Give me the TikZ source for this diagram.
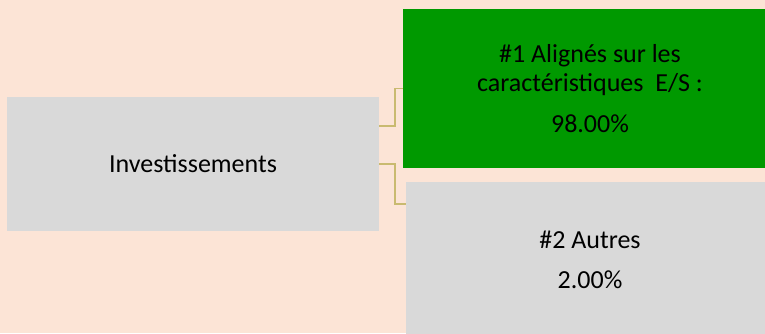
\documentclass[tikz,border=0pt]{standalone}
\usepackage{fontspec}
\setmainfont{Carlito}
\definecolor{peach}{RGB}{252,228,214}
\definecolor{boxgrey}{RGB}{217,217,217}
\definecolor{boxgreen}{RGB}{0,153,0}
\definecolor{linktan}{RGB}{201,186,112}
\begin{document}
\begin{tikzpicture}[x=1pt,y=-1pt,
  blockbox/.style={rectangle,inner sep=0pt,outer sep=0pt,align=center,
    font=\fontsize{26}{29}\selectfont,text=black},
  link/.style={draw=linktan,line width=1.6pt}]
  \useasboundingbox (0,0) rectangle (765,333);
  \fill[peach] (0,0) rectangle (765,333);
  \begin{scope}
    \clip (0,0) rectangle (765,333);
    \node[blockbox,fill=boxgrey,minimum width=372pt,minimum height=134pt] (inv) at (193,164) {Investissements};
    \node[blockbox,fill=boxgreen,minimum width=374pt,minimum height=159pt] (al) at (590,88.5)
      {\#1 Alignés sur les\\caractéristiques~~E/S :\\[12pt]98.00\%};
    \node[blockbox,fill=boxgrey,minimum width=368pt,minimum height=155pt] (oth) at (590,259.5)
      {\#2 Autres\\[11pt]2.00\%};
    \coordinate (bend) at (395,0);
    \coordinate (invtop) at ([yshift=38pt]inv.east);
    \coordinate (othin) at ([yshift=55.5pt]oth.west);
    \draw[link] (invtop) -| (bend |- al.west) -- (al.west);
    \draw[link] (inv.east) -| (bend |- othin) -- (othin);
  \end{scope}
\end{tikzpicture}
\end{document}
